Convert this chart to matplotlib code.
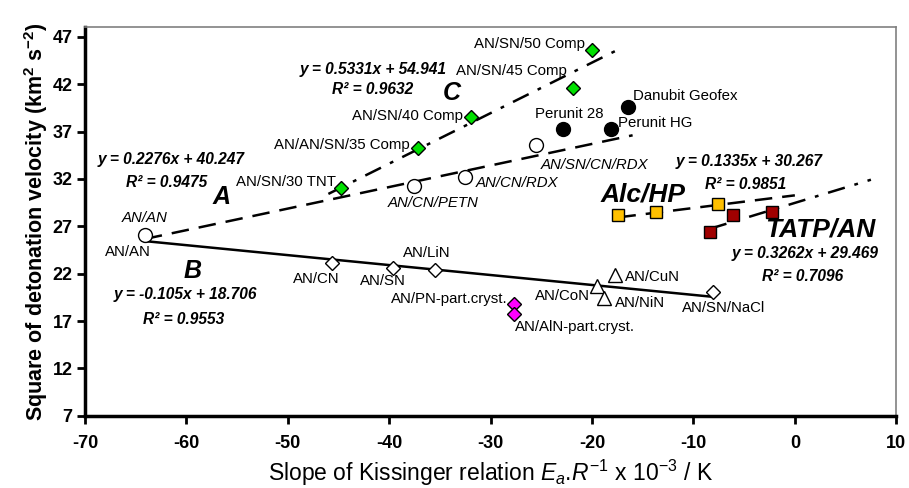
import matplotlib
matplotlib.use("Agg")
import matplotlib.pyplot as plt

plt.rcParams["font.family"] = ["Liberation Sans", "DejaVu Sans"]
plt.rcParams["axes.unicode_minus"] = False
plt.rcParams["mathtext.fontset"] = "custom"
plt.rcParams["mathtext.rm"] = "Liberation Sans"
plt.rcParams["mathtext.it"] = "Liberation Sans:italic"
plt.rcParams["mathtext.bf"] = "Liberation Sans:bold"

# series A (open circles)
a_x = [-64.1, -37.6, -32.5, -25.5]
a_y = [26.05, 31.2, 32.2, 35.6]
# commercial (black circles)
com_x = [-22.9, -18.1, -16.5]
com_y = [37.3, 37.3, 39.6]
# series C (green diamonds)
c_x = [-44.75, -37.2, -31.9, -21.9, -20.0]
c_y = [31.0, 35.3, 38.5, 41.6, 45.6]
# series B (open diamonds)
b_x = [-45.6, -39.6, -35.5, -8.1]
b_y = [23.1, 22.6, 22.4, 20.05]
# transition metal nitrates (open triangles)
tri_x = [-19.5, -18.8, -17.7]
tri_y = [20.7, 19.4, 21.9]
# partly crystalline (magenta diamonds)
pc_x = [-27.7, -27.7]
pc_y = [18.8, 17.7]
# Alc/HP (yellow squares)
alc_x = [-17.4, -13.7, -7.6]
alc_y = [28.2, 28.5, 29.4]
# TATP/AN (dark red squares)
tatp_x = [-8.4, -6.1, -2.25]
tatp_y = [26.4, 28.2, 28.5]

# trend lines: slope, intercept, x range
fit_a = (0.2276, 40.247, -64.1, -16.0)
fit_b = (-0.105, 18.706, -64.1, -8.1)
fit_c = (0.5331, 54.941, -46.0, -17.5)
fit_alc = (0.1335, 30.267, -17.4, 0.0)
fit_tatp = (0.3262, 29.469, -8.4, 7.5)

fig, ax = plt.subplots(figsize=(9.09, 4.88), dpi=100)
fig.subplots_adjust(left=0.0935, right=0.986, top=0.944, bottom=0.148)


def trend(fit, **kw):
    k, q, x0, x1 = fit
    ax.plot([x0, x1], [k * x0 + q, k * x1 + q], color="black", lw=1.8, zorder=2, **kw)


trend(fit_a, ls=(0, (7, 4)))
trend(fit_b, ls="-")
trend(fit_c, ls=(0, (7, 4, 1.5, 4)))
trend(fit_alc, ls=(0, (7, 4)))
trend(fit_tatp, ls=(0, (7, 4, 1.5, 4)))

mk = dict(ls="none", markeredgecolor="black", markeredgewidth=1, zorder=3)
ax.plot(a_x, a_y, marker="o", ms=10, markerfacecolor="white", **mk)
ax.plot(com_x, com_y, marker="o", ms=10, markerfacecolor="black", **mk)
ax.plot(c_x, c_y, marker="D", ms=7, markerfacecolor="#00e000", **mk)
ax.plot(b_x, b_y, marker="D", ms=7, markerfacecolor="white", **mk)
ax.plot(tri_x, tri_y, marker="^", ms=10, markerfacecolor="white", **mk)
ax.plot(pc_x, pc_y, marker="D", ms=7, markerfacecolor="#ff00ff", **mk)
ax.plot(alc_x, alc_y, marker="s", ms=9, markerfacecolor="#ffc000", **mk)
ax.plot(tatp_x, tatp_y, marker="s", ms=9, markerfacecolor="#a00000", **mk)

lab = dict(fontsize=10.8, va="center", zorder=4)
labels = [
    ("AN/SN/50 Comp", -20.7, 46.2, "right", "normal"),
    ("AN/SN/45 Comp", -22.5, 43.4, "right", "normal"),
    ("AN/SN/40 Comp", -32.7, 38.6, "right", "normal"),
    ("AN/AN/SN/35 Comp", -37.95, 35.6, "right", "normal"),
    ("AN/SN/30 TNT", -45.2, 31.7, "right", "normal"),
    ("AN/AN", -66.35, 27.85, "left", "italic"),
    ("AN/AN", -68.0, 24.3, "left", "normal"),
    ("AN/CN", -49.5, 21.4, "left", "normal"),
    ("AN/SN", -42.9, 21.2, "left", "normal"),
    ("AN/LiN", -38.6, 24.15, "left", "normal"),
    ("AN/PN-part.cryst.", -28.3, 19.3, "right", "normal"),
    ("AN/AlN-part.cryst.", -27.6, 16.4, "left", "normal"),
    ("AN/CoN", -20.2, 19.6, "right", "normal"),
    ("AN/NiN", -17.7, 18.9, "left", "normal"),
    ("AN/CuN", -16.75, 21.7, "left", "normal"),
    ("AN/SN/NaCl", -11.1, 18.4, "left", "normal"),
    ("AN/CN/PETN", -40.1, 29.5, "left", "italic"),
    ("AN/CN/RDX", -31.5, 31.6, "left", "italic"),
    ("AN/SN/CN/RDX", -25.1, 33.5, "left", "italic"),
    ("Perunit 28", -25.6, 38.8, "left", "normal"),
    ("Perunit HG", -17.4, 37.95, "left", "normal"),
    ("Danubit Geofex", -16.0, 40.7, "left", "normal"),
]
for txt, x, y, ha, style in labels:
    ax.text(x, y, txt, ha=ha, style=style, **lab)

eq = dict(fontsize=11.2, va="center", ha="left", weight="bold", style="italic", zorder=4)
equations = [
    ("y = 0.5331x + 54.941", -48.8, 43.5),
    ("R² = 0.9632", -45.6, 41.4),
    ("y = 0.2276x + 40.247", -68.8, 34.05),
    ("R² = 0.9475", -66.0, 31.6),
    ("y = -0.105x + 18.706", -67.2, 19.75),
    ("R² = 0.9553", -64.3, 17.2),
    ("y = 0.1335x + 30.267", -11.8, 33.85),
    ("R² = 0.9851", -8.85, 31.4),
    ("y = 0.3262x + 29.469", -6.2, 24.15),
    ("R² = 0.7096", -3.2, 21.7),
]
for txt, x, y in equations:
    ax.text(x, y, txt, **eq)

big = dict(va="center", ha="left", weight="bold", style="italic", zorder=4)
ax.text(-34.7, 41.1, "C", fontsize=18, **big)
ax.text(-57.4, 30.05, "A", fontsize=18, **big)
ax.text(-60.3, 22.3, "B", fontsize=18, **big)
ax.text(-19.2, 30.4, "Alc/HP", fontsize=19, **big)
ax.text(-2.9, 26.7, "TATP/AN", fontsize=19, **big)

ax.set_xlim(-70, 10)
ax.set_ylim(7, 48)
ax.set_xticks(range(-70, 11, 10))
ax.set_yticks(range(7, 48, 5))
for t in ax.get_xticklabels() + ax.get_yticklabels():
    t.set_fontweight("bold")
    t.set_fontsize(13)
for t in ax.get_xticklabels():
    t.set_fontstretch("condensed")
ax.tick_params(direction="out", length=6, width=2, pad=8)
ax.tick_params(axis="y", pad=3)

for s in ("left", "bottom"):
    ax.spines[s].set_linewidth(2.5)
for s in ("top", "right"):
    ax.spines[s].set_linewidth(1.2)
    ax.spines[s].set_color("#808080")

ax.set_ylabel(r"Square of detonation velocity (km$^\mathbf{2}$ s$^\mathbf{-2}$)",
              fontsize=15.5, weight="bold", labelpad=2)
ax.set_xlabel(r"Slope of Kissinger relation $E_a$.$R^{-1}$ x 10$^{-3}$ / K",
              fontsize=16.5, labelpad=4)

fig.savefig("out.png", dpi=100)
